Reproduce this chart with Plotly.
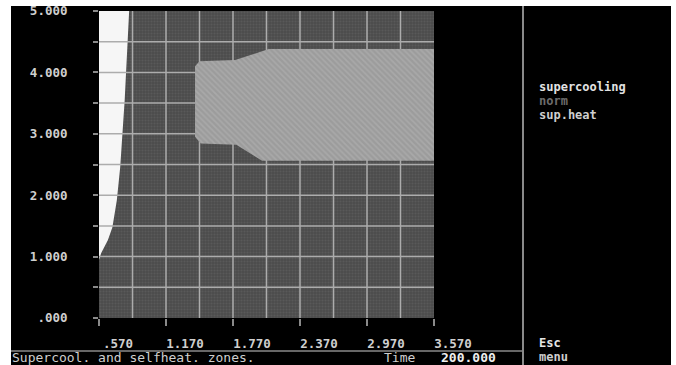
import plotly.graph_objects as go

# ---- data ----------------------------------------------------------------
# x axis (time-like parameter) and y axis ticks
x_ticks = [0.57, 1.17, 1.77, 2.37, 2.97, 3.57]
x_tick_labels = [".570", "1.170", "1.770", "2.370", "2.970", "3.570"]
y_ticks = [0.0, 0.5, 1.0, 1.5, 2.0, 2.5, 3.0, 3.5, 4.0, 4.5, 5.0]
y_tick_labels = [".000", "", "1.000", "", "2.000", "", "3.000", "", "4.000", "", "5.000"]
x_grid = [0.87, 1.17, 1.47, 1.77, 2.07, 2.37, 2.67, 2.97, 3.27]
y_grid = [0.5, 1.0, 1.5, 2.0, 2.5, 3.0, 3.5, 4.0, 4.5]

# supercooling zone: right boundary of the region next to the left axis
super_x = [0.57, 0.59, 0.65, 0.69, 0.73, 0.76, 0.80, 0.84]
super_y = [0.95, 1.06, 1.27, 1.48, 1.92, 2.46, 3.55, 5.00]

# self-heating zone outline (closed polygon)
heat_x = [1.43, 1.43, 1.47, 1.79, 2.09, 3.57, 3.57, 2.03, 1.80, 1.48, 1.43]
heat_y = [2.95, 4.10, 4.18, 4.20, 4.38, 4.38, 2.56, 2.56, 2.82, 2.84, 2.95]

legend_items = ["supercooling", "norm", "sup.heat"]
legend_colors = ["#e2e2e2", "#6c6c6c", "#cfcfcf"]

status_text = "Supercool. and selfheat. zones."
time_label = "Time"
time_value = "200.000"

X0, X1 = 0.57, 3.57
Y0, Y1 = 0.0, 5.0

W, H = 676, 365
FONT = "DejaVu Sans Mono"
TXT = "#cfcfcf"
FS = 12.5


def px(x):
    return x / W


def py(y):
    return 1 - y / H


fig = go.Figure()

# dark "norm" background of the plot area
fig.add_trace(go.Scatter(
    x=[X0, X1, X1, X0, X0], y=[Y0, Y0, Y1, Y1, Y0],
    mode="lines", line=dict(width=0), fill="toself",
    fillcolor="#4f4f4f",
    fillpattern=dict(shape=".", fgcolor="#656565", bgcolor="#4c4c4c",
                     size=3, solidity=0.35),
    hoverinfo="skip", showlegend=False,
))

# supercooling region (white)
fig.add_trace(go.Scatter(
    x=[X0] + super_x + [X0], y=[super_y[0]] + super_y + [Y1],
    mode="lines", line=dict(width=0), fill="toself", fillcolor="#f6f6f6",
    hoverinfo="skip", showlegend=False,
))

# grid lines drawn over the supercooling zone
gx, gy = [], []
for v in x_grid:
    gx += [v, v, None]
    gy += [Y0, Y1, None]
for v in y_grid:
    gx += [X0, X1, None]
    gy += [v, v, None]
fig.add_trace(go.Scatter(
    x=gx, y=gy, mode="lines", line=dict(color="#acacac", width=1.5),
    hoverinfo="skip", showlegend=False,
))

# self-heating region (hatched light grey)
fig.add_trace(go.Scatter(
    x=heat_x, y=heat_y, mode="lines", line=dict(width=0), fill="toself",
    fillcolor="#a4a4a4",
    fillpattern=dict(shape="\\", fgcolor="#b6b6b6", bgcolor="#9c9c9c",
                     size=4, solidity=0.4),
    hoverinfo="skip", showlegend=False,
))

axis_font = dict(family=FONT, size=FS, color=TXT, weight="bold")

fig.update_layout(
    width=W, height=H,
    autosize=False,
    margin=dict(l=0, r=0, t=0, b=0, pad=0),
    paper_bgcolor="#ffffff",
    plot_bgcolor="#000000",
    showlegend=False,
    xaxis=dict(
        domain=[px(99), px(434)], range=[X0, X1], automargin=False,
        tickvals=x_ticks, ticktext=x_tick_labels,
        ticks="outside", ticklen=7, tickwidth=1.5, tickcolor="#8a8a8a",
        showgrid=False, zeroline=False, showline=False,
        tickfont=axis_font, ticklabelshift=19, ticklabelstandoff=7,
    ),
    yaxis=dict(
        domain=[py(318), py(11)], range=[Y0, Y1], automargin=False,
        tickvals=y_ticks, ticktext=y_tick_labels,
        ticks="outside", ticklen=5, tickwidth=1.5, tickcolor="#8a8a8a",
        showgrid=False, zeroline=False, showline=False,
        tickfont=axis_font, ticklabelstandoff=23,
    ),
)

# black screen, divider and status line
fig.add_shape(type="rect", xref="paper", yref="paper",
              x0=px(11), x1=px(671), y0=py(365), y1=py(6),
              fillcolor="#000000", line=dict(width=0), layer="below")
fig.add_shape(type="line", xref="paper", yref="paper",
              x0=px(523), x1=px(523), y0=py(365), y1=py(6),
              line=dict(color="#8a8a8a", width=2))
fig.add_shape(type="line", xref="paper", yref="paper",
              x0=px(11), x1=px(523), y0=py(351), y1=py(351),
              line=dict(color="#8a8a8a", width=1.5))


def label(x, y, text, color=TXT, bold=True, size=FS):
    fig.add_annotation(x=px(x), y=py(y), xref="paper", yref="paper", text=text,
                       showarrow=False, xanchor="left", yanchor="middle", borderpad=0,
                       font=dict(family=FONT, size=size, color=color,
                                 weight="bold" if bold else "normal"))


# side panel legend
for i, (name, col) in enumerate(zip(legend_items, legend_colors)):
    label(538, 87 + 14 * i, name, col, size=12)

label(538, 343, "Esc", "#e6e6e6", size=12)
label(538, 357, "menu", size=12)

# status bar
label(11, 357, status_text, bold=False, size=13)
label(383, 357, time_label, bold=False, size=13)
label(440, 357, time_value, "#eeeeee", size=13)

fig.write_html("out.html")
